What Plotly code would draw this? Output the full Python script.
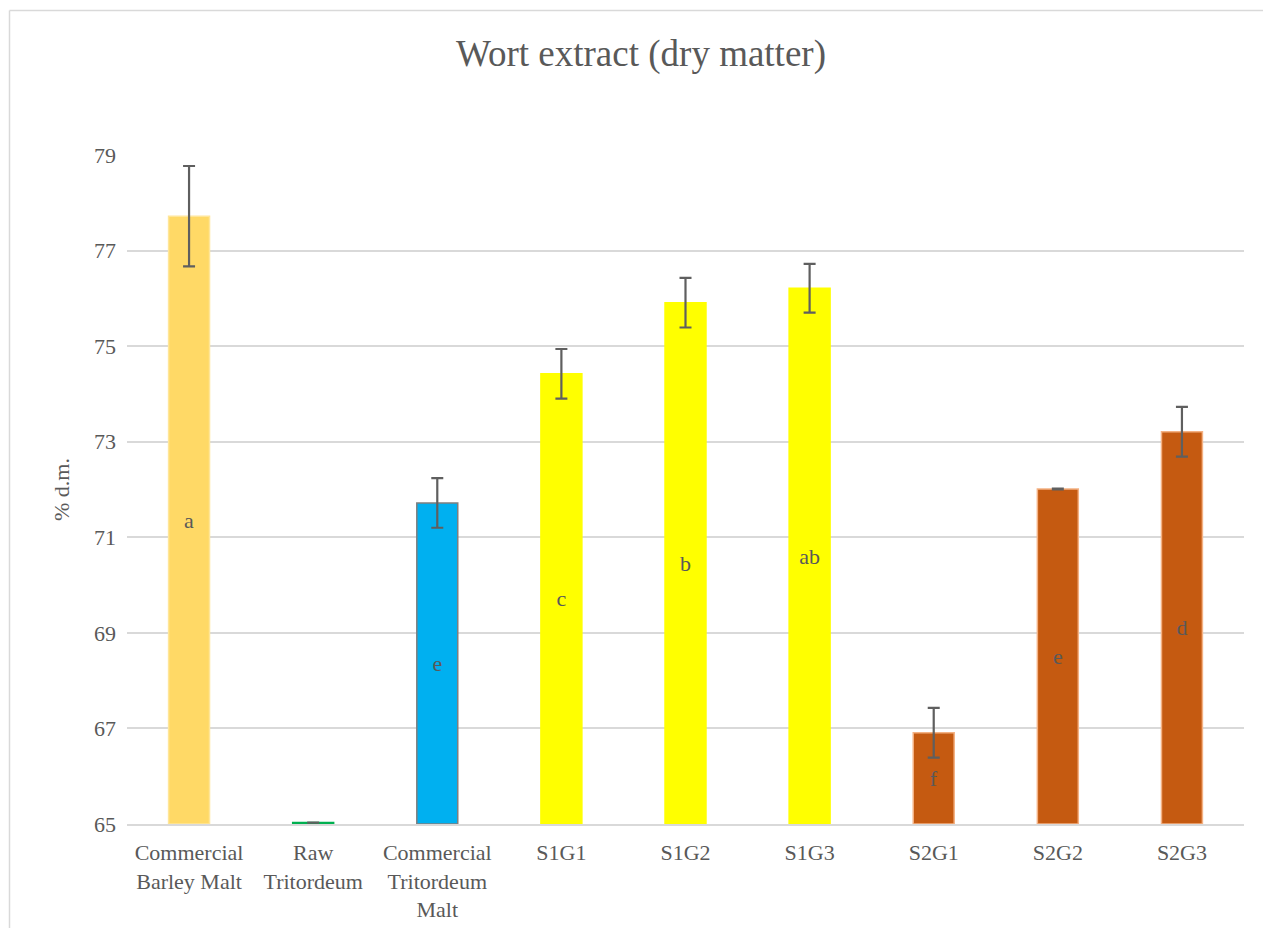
import plotly.graph_objects as go

# Wort extract (% dry matter) per malt sample
categories = [
    "Commercial<br>Barley Malt",
    "Raw<br>Tritordeum",
    "Commercial<br>Tritordeum<br>Malt",
    "S1G1", "S1G2", "S1G3",
    "S2G1", "S2G2", "S2G3",
]
extract = [77.72, 65.03, 71.72, 74.42, 75.91, 76.21, 66.91, 72.01, 73.21]
std_dev = [1.05, 0.0, 0.52, 0.52, 0.52, 0.51, 0.52, 0.01, 0.52]
groups = ["a", "", "e", "c", "b", "ab", "f", "e", "d"]

AXIS_MIN, AXIS_MAX = 65, 79

fill_colors = ["#FFD966", "#00B050", "#00B0F0",
               "#FFFF00", "#FFFF00", "#FFFF00",
               "#C55A11", "#C55A11", "#C55A11"]
edge_colors = ["#FFE699", "#00B050", "#7F7F7F",
               "#FFFF00", "#FFFF00", "#FFFF00",
               "#F4B183", "#F4B183", "#F4B183"]

SERIF = "Liberation Serif, Times New Roman, serif"
GREY = "#595959"

W, H = 1263, 928
L, R, T, B = 127, 19, 155, 104

# bars rise from the axis minimum so the group letters sit mid-bar
fig = go.Figure(
    go.Bar(
        x=categories,
        y=[v - AXIS_MIN for v in extract],
        base=AXIS_MIN,
        width=0.33,
        marker=dict(color=fill_colors, line=dict(color=edge_colors, width=1.5)),
        error_y=dict(type="data", array=std_dev, visible=True,
                     color="#5F5F5F", thickness=2.2, width=6),
        text=groups,
        textposition="inside",
        insidetextanchor="middle",
        textangle=0,
        constraintext="none",
        textfont=dict(family=SERIF, size=22, color=GREY),
        customdata=extract,
        hovertemplate="%{x}: %{customdata}<extra></extra>",
    )
)

# outer chart frame (left and top edges)
def px_x(p):
    return (p - L) / (W - L - R)

def px_y(p):
    return 1 - (p - T) / (H - T - B)

fig.add_shape(type="line", xref="paper", yref="paper",
              x0=px_x(9.5), x1=px_x(9.5), y0=px_y(10.5), y1=px_y(940),
              line=dict(color="#D9D9D9", width=1.5))
fig.add_shape(type="line", xref="paper", yref="paper",
              x0=px_x(9.5), x1=px_x(1275), y0=px_y(10.5), y1=px_y(10.5),
              line=dict(color="#D9D9D9", width=1.5))

fig.update_layout(
    width=W, height=H,
    margin=dict(l=L, r=R, t=T, b=B),
    paper_bgcolor="white",
    plot_bgcolor="white",
    showlegend=False,
    font=dict(family=SERIF, color=GREY, size=22),
    title=dict(text="Wort extract (dry matter)",
               font=dict(family=SERIF, size=37, color=GREY),
               x=641 / W, xref="container", xanchor="center",
               y=1 - 53 / H, yref="container", yanchor="middle"),
    xaxis=dict(
        type="category",
        automargin=False,
        showgrid=False,
        showline=True, linecolor="#D9D9D9", linewidth=1.5,
        ticks="", ticklabelstandoff=8,
        tickfont=dict(family=SERIF, size=22, color=GREY),
    ),
    yaxis=dict(
        range=[AXIS_MIN, AXIS_MAX],
        automargin=False,
        tickvals=[65, 67, 69, 71, 73, 75, 77, 79],
        showgrid=True, gridcolor="#D9D9D9", gridwidth=1.5,
        zeroline=False, showline=False,
        ticks="", ticklabelstandoff=10,
        tickfont=dict(family=SERIF, size=22, color=GREY),
        title=dict(text="% d.m.", standoff=18,
                   font=dict(family=SERIF, size=22, color=GREY)),
    ),
)

fig.write_html("out.html")
